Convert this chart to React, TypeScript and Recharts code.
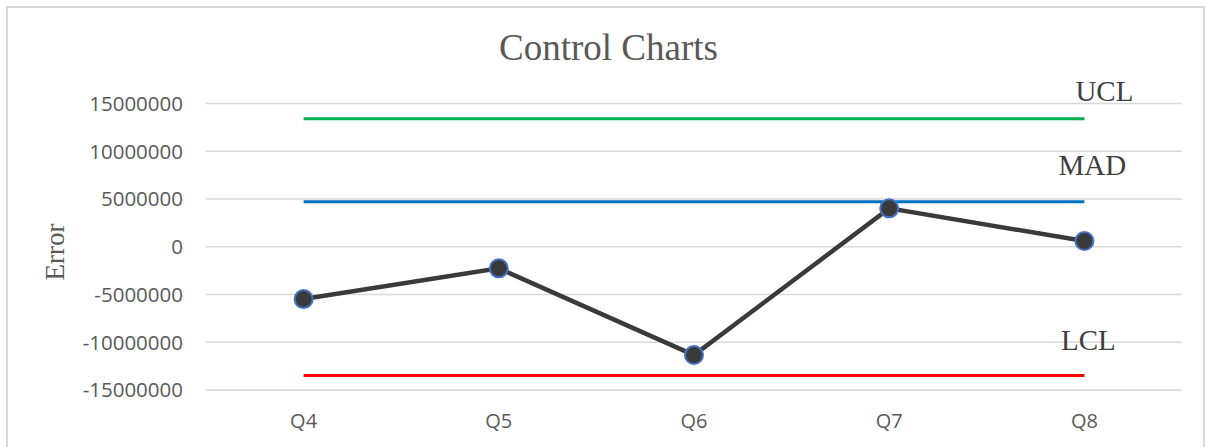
import { LineChart, Line, XAxis, YAxis, CartesianGrid, LabelList } from 'recharts';

const quarters = ['Q4', 'Q5', 'Q6', 'Q7', 'Q8'];
const errors = [-5480000, -2260000, -11340000, 4020000, 600000];
const uclValues = [13400000, 13400000, 13400000, 13400000, 13400000];
const madValues = [4710000, 4710000, 4710000, 4710000, 4710000];
const lclValues = [-13470000, -13470000, -13470000, -13470000, -13470000];
const yTicks = [-15000000, -10000000, -5000000, 0, 5000000, 10000000, 15000000];

const data = quarters.map((q, i) => ({
  q,
  error: errors[i],
  ucl: uclValues[i],
  mad: madValues[i],
  lcl: lclValues[i],
}));

const SERIF = '"Liberation Serif", "Times New Roman", serif';
const SANS = '"Open Sans", "Noto Sans", sans-serif';
const GRAY = '#595959';

// text label placed next to the last point of a control line
const endLabel = (text: string, dx: number, dy: number) => (props: any) => {
  if (props.index !== quarters.length - 1) return null;
  return (
    <text
      x={props.x + dx}
      y={props.y + dy}
      textAnchor="middle"
      fontFamily={SERIF}
      fontSize={29}
      fill="#404040"
    >
      {text}
    </text>
  );
};

export default function App() {
  return (
    <div style={{ position: 'absolute', left: 0, top: 0, width: 1205, height: 447, background: '#fff', overflow: 'hidden' }}>
      <div
        style={{
          position: 'absolute', left: 6, top: 6, width: 1199, height: 470,
          border: '2px solid #d9d9d9', boxSizing: 'border-box',
        }}
      />
      <div
        style={{
          position: 'absolute', left: 0, top: 26, width: 1217, textAlign: 'center',
          fontFamily: SERIF, fontSize: 37, color: GRAY, lineHeight: '44px',
        }}
      >
        Control Charts
      </div>
      <div style={{ position: 'absolute', left: 0, top: 0 }}>
        <LineChart width={1205} height={447} data={data} margin={{ top: 103.5, right: 23, bottom: 0, left: 0 }}>
          <CartesianGrid vertical={false} stroke="#d9d9d9" strokeWidth={1.5} />
          <XAxis
            dataKey="q"
            height={57}
            axisLine={false}
            tickLine={false}
            tickSize={0}
            tickMargin={24}
            padding={{ left: 97.6, right: 97.6 }}
            tick={{ fontFamily: SANS, fontSize: 20, fill: GRAY }}
          />
          <YAxis
            width={206}
            domain={[-15000000, 15000000]}
            ticks={yTicks}
            interval={0}
            axisLine={false}
            tickLine={false}
            tickSize={0}
            tickMargin={23}
            tick={{ fontFamily: SANS, fontSize: 20.5, fill: GRAY }}
            label={{
              content: () => (
                <text
                  x={64}
                  y={252}
                  transform="rotate(-90 64 252)"
                  textAnchor="middle"
                  fontFamily={SERIF}
                  fontSize={27}
                  fill={GRAY}
                >
                  Error
                </text>
              ),
            }}
          />
          <Line dataKey="ucl" stroke="#00b050" strokeWidth={3} dot={false} isAnimationActive={false}>
            <LabelList dataKey="ucl" content={endLabel('UCL', 20, -18)} />
          </Line>
          <Line dataKey="mad" stroke="#0070c0" strokeWidth={3} dot={false} isAnimationActive={false}>
            <LabelList dataKey="mad" content={endLabel('MAD', 8, -27)} />
          </Line>
          <Line dataKey="lcl" stroke="#ff0000" strokeWidth={3} dot={false} isAnimationActive={false}>
            <LabelList dataKey="lcl" content={endLabel('LCL', 4, -25)} />
          </Line>
          <Line
            dataKey="error"
            stroke="#3a3a3a"
            strokeWidth={4.5}
            dot={{ r: 9, fill: '#3a3a3a', stroke: '#4472c4', strokeWidth: 2 }}
            isAnimationActive={false}
          />
        </LineChart>
      </div>
    </div>
  );
}
